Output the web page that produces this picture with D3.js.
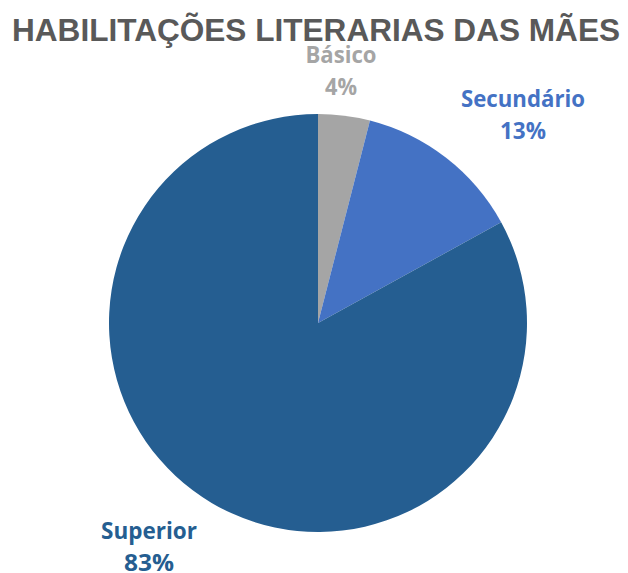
<!DOCTYPE html>
<html>
<head>
<meta charset="utf-8">
<script src="https://cdn.jsdelivr.net/npm/d3@7"></script>
<style>
  body { margin: 0; background: #fff; }
</style>
</head>
<body>
<div id="chart"></div>
<script>
// data
var categories = ["Básico", "Secundário", "Superior"];
var values = [4, 13, 83];
var colors = ["#A5A5A5", "#4472C4", "#255E91"];

var width = 628, height = 573;
var cx = 318, cy = 323, radius = 209;

var svg = d3.select("#chart")
  .append("svg")
  .attr("width", width)
  .attr("height", height);

// title
svg.append("text")
  .attr("x", 316)
  .attr("y", 41)
  .attr("text-anchor", "middle")
  .attr("font-family", "Liberation Sans, Arial, sans-serif")
  .attr("font-weight", "bold")
  .attr("font-size", 32)
  .attr("fill", "#595959")
  .attr("textLength", 608)
  .attr("lengthAdjust", "spacingAndGlyphs")
  .text("HABILITAÇÕES LITERARIAS DAS MÃES");

var data = categories.map((c, i) => ({name: c, value: values[i], color: colors[i]}));

var pie = d3.pie().sort(null).value(d => d.value);
var arc = d3.arc().innerRadius(0).outerRadius(radius);

var g = svg.append("g")
  .attr("transform", `translate(${cx}, ${cy})`);

g.selectAll("path")
  .data(pie(data))
  .join("path")
  .attr("d", arc)
  .attr("fill", d => d.data.color);

// label positions (outside the pie, like the reference)
var labelPos = [
  {x: 341, y: 63, w1: 71, w2: 32},
  {x: 523, y: 107, w1: 124, w2: 46},
  {x: 149, y: 539, w1: 96, w2: 50}
];

var labels = svg.append("g")
  .attr("font-family", "Open Sans, sans-serif")
  .attr("font-weight", "bold")
  .attr("font-size", 23)
  .attr("text-anchor", "middle");

data.forEach(function(d, i) {
  var p = labelPos[i];
  labels.append("text")
    .attr("x", p.x)
    .attr("y", p.y)
    .attr("fill", d.color)
    .attr("textLength", p.w1)
    .attr("lengthAdjust", "spacingAndGlyphs")
    .text(d.name);
  labels.append("text")
    .attr("x", p.x)
    .attr("y", p.y + 32)
    .attr("fill", d.color)
    .attr("textLength", p.w2)
    .attr("lengthAdjust", "spacingAndGlyphs")
    .text(d.value + "%");
});
</script>
</body>
</html>
